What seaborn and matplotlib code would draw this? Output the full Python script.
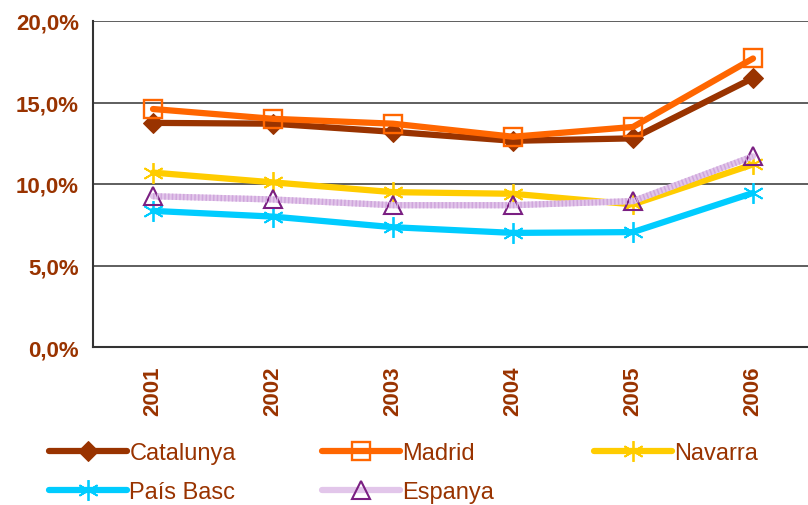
import matplotlib
matplotlib.use("Agg")
import matplotlib.pyplot as plt
import seaborn as sns
from matplotlib.ticker import FixedLocator, FuncFormatter

# dades llegides del gràfic (%)
years = ['2001', '2002', '2003', '2004', '2005', '2006']
catalunya = [13.75, 13.7, 13.2, 12.65, 12.8, 16.5]
madrid = [14.6, 14.0, 13.7, 12.9, 13.5, 17.7]
navarra = [10.7, 10.1, 9.5, 9.4, 8.75, 11.2]
pais_basc = [8.35, 8.0, 7.35, 7.0, 7.05, 9.45]
espanya = [9.25, 9.05, 8.7, 8.7, 8.95, 11.7]

brown = '#993300'

sns.set_style('white')
plt.rcParams['font.family'] = ['Liberation Sans', 'DejaVu Sans']

fig = plt.figure(figsize=(8.08, 5.06), dpi=100)
ax = fig.add_axes([93/808, 158/506, 720/808, 326/506])

series = [
    ('Catalunya', catalunya, dict(color=brown, marker='D', markersize=10,
                                  markerfacecolor=brown, markeredgecolor=brown)),
    ('Madrid', madrid, dict(color='#ff6600', marker='s', markersize=13,
                            markerfacecolor='none', markeredgecolor='#ff6600', markeredgewidth=1.7)),
    ('Navarra', navarra, dict(color='#ffcc00', marker=(6, 2, 0), markersize=15,
                              markeredgecolor='#ffcc00', markeredgewidth=1.3)),
    ('País Basc', pais_basc, dict(color='#00ccff', marker=(6, 2, 0), markersize=15,
                                  markeredgecolor='#00ccff', markeredgewidth=1.3)),
    ('Espanya', espanya, dict(color='#e2c6ea', marker='^', markersize=13,
                              markerfacecolor='none', markeredgecolor='#7a1f82', markeredgewidth=1.5)),
]

handles = {}
for name, vals, kw in series:
    sns.lineplot(x=years, y=vals, ax=ax, linewidth=4.5, label=name, **kw)
    handles[name] = ax.get_lines()[-1]

# ratlles fines sobre la línia d'Espanya (per sota dels marcadors)
sns.lineplot(x=years, y=espanya, ax=ax, linewidth=4.5, color='#cfa6dc',
             linestyle=(0, (0.25, 0.35)))
ax.get_lines()[-1].set_zorder(2.5)
handles['Espanya'].set_zorder(2.4)

ax.set_xlim(-0.5, 5.5)
ax.set_ylim(0, 20)
ax.set_xlabel('')
ax.set_ylabel('')

ax.yaxis.set_major_locator(FixedLocator([0, 5, 10, 15, 20]))
ax.yaxis.set_major_formatter(FuncFormatter(lambda v, p: f'{v:.1f}%'.replace('.', ',')))
for y in [5, 10, 15, 20]:
    ax.axhline(y, color='#333333', linewidth=1.1, zorder=1)

# ticks a les fronteres de categoria, etiquetes al centre
ax.set_xticks([i - 0.5 for i in range(7)])
ax.set_xticklabels([])
ax.set_xticks(range(6), minor=True)
ax.set_xticklabels(years, minor=True, rotation=90, fontsize=16, fontweight='bold', color=brown)
ax.tick_params(axis='x', which='major', direction='out', length=6, width=1.2, color='#333333')
ax.tick_params(axis='x', which='minor', length=0, pad=13)
ax.tick_params(axis='y', direction='out', length=6, width=1.2, color='#333333', pad=4,
               labelsize=16, labelcolor=brown)
for lab in ax.get_yticklabels():
    lab.set_fontweight('bold')

for s in ['top', 'right']:
    ax.spines[s].set_visible(False)
for s in ['left', 'bottom']:
    ax.spines[s].set_color('#333333')
    ax.spines[s].set_linewidth(1.5)

ax.legend_.remove()
columns = [(['Catalunya', 'País Basc'], 49), (['Madrid', 'Espanya'], 322), (['Navarra'], 594)]
for names, x0 in columns:
    fig.legend([handles[n] for n in names], names, loc='upper left',
               bbox_to_anchor=(x0/808, 1 - 443/506), frameon=False, fontsize=17,
               handlelength=3.3, handletextpad=0.1, labelspacing=0.72, labelcolor=brown,
               borderpad=0, borderaxespad=0)

fig.savefig('out.png', dpi=100)
